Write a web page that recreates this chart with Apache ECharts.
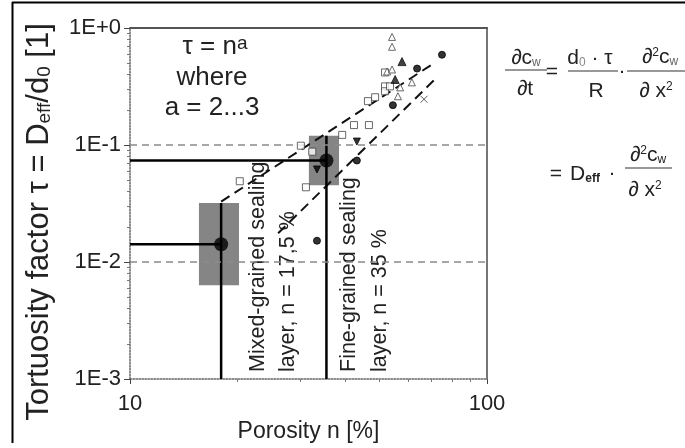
<!DOCTYPE html>
<html><head><meta charset="utf-8">
<script src="https://cdn.jsdelivr.net/npm/echarts@6/dist/echarts.min.js"></script>
<style>html,body{margin:0;padding:0;background:#fff}#c{width:685px;height:448px}</style>
</head><body><div id="c"></div>
<script>
// ---- data (porosity n in %, tortuosity factor tau) ----
const xTickValues = [10, 100];
const xTickLabels = ['10', '100'];
const yTickValues = [0.001, 0.01, 0.1, 1];
const yTickLabels = ['1E-3', '1E-2', '1E-1', '1E+0'];

const openSquares = [[20.3,0.049],[30.1,0.0986],[32.4,0.0877],[31.1,0.0435],[39.3,0.122],[42.4,0.148],[46.7,0.148],[46.4,0.237],[48.6,0.256],[51.8,0.317],[51.8,0.288],[53.5,0.317],[51.8,0.417]];
const openTriangles = [[54.2,0.839],[54.2,0.691],[52.5,0.425],[54.2,0.442],[57.1,0.311],[61.6,0.343],[56.3,0.261]];
const filledCircles = [[74.8,0.591],[63.7,0.450],[54.5,0.219],[43.2,0.0737],[33.4,0.0152]];
const filledTrianglesDown = [[43.2,0.107],[33.4,0.0618]];
const filledTrianglesUp = [[57.8,0.516],[55.3,0.363]];
const crosses = [[66.6,0.246]];
const layerMeans = [[18,0.0142],[35.5,0.0737]];
// [nMin, nMax, tauMin, tauMax]
const layerRanges = [[15.6,20.2,0.00634,0.0319],[31.7,38.5,0.0453,0.12]];
const trendA2 = [[18,0.0328],[71,0.50]];
const trendA3 = [[26,0.0176],[71.5,0.365]];
const guideMixedH = [[10,0.0142],[18,0.0142]];
const guideMixedV = [[18,0.001],[18,0.0319]];
const guideFineH = [[10,0.0737],[35.5,0.0737]];
const guideFineV = [[35.5,0.001],[35.5,0.12]];
const refLevels = [0.1, 0.01];

function lbl(vals, labs, v) {
  for (let i = 0; i < vals.length; i++) if (Math.abs(Math.log10(v) - Math.log10(vals[i])) < 1e-6) return labs[i];
  return '';
}
const FF = 'Liberation Sans, Arial, sans-serif';
const TC = '#222';

const chart = echarts.init(document.getElementById('c'), null, {renderer: 'canvas'});
const solid = (data, w) => ({type:'line', data, symbol:'none', lineStyle:{color:'#000', width:w}, z:4, animation:false, silent:true});
const dashed = (data) => ({type:'line', data, symbol:'none', lineStyle:{color:'#111', width:2, type:[10,6]}, z:3, animation:false, silent:true});
const scat = (data, symbol, size, fill, border, rot) => ({type:'scatter', data, symbol, symbolSize:size, symbolRotate:rot||0, itemStyle:{color:fill, borderColor:border, borderWidth:1}, z:5, animation:false});

const option = {
  animation: false,
  grid: {left:130, top:28, width:357, height:355},
  xAxis: [{
    type:'log', logBase:10, min:10, max:100,
    axisLine:{show:true, lineStyle:{color:'#666', width:1.5, type:'dotted'}},
    axisTick:{show:true, length:5, lineStyle:{color:'#444'}},
    minorTick:{show:true, splitNumber:9, length:3, lineStyle:{color:'#777'}},
    axisLabel:{fontSize:22, color:TC, fontFamily:FF, margin:14, formatter:v=>lbl(xTickValues,xTickLabels,v)},
    splitLine:{show:false},
    name:'Porosity n [%]', nameLocation:'middle', nameGap:41,
    nameTextStyle:{fontSize:23, color:TC, fontFamily:FF}
  },{
    type:'log', logBase:10, min:10, max:100, position:'top',
    axisLine:{show:true, lineStyle:{color:'#555', width:2}},
    axisTick:{show:false}, axisLabel:{show:false}, splitLine:{show:false}
  }],
  yAxis: [{
    type:'log', logBase:10, min:0.001, max:1,
    axisLine:{show:true, lineStyle:{color:'#666', width:1.5, type:'dotted'}},
    axisTick:{show:true, length:6, lineStyle:{color:'#444'}},
    minorTick:{show:true, splitNumber:9, length:3, lineStyle:{color:'#777'}},
    axisLabel:{fontSize:22, color:TC, fontFamily:FF, margin:9, formatter:v=>lbl(yTickValues,yTickLabels,v)},
    splitLine:{show:false}
  },{
    type:'log', logBase:10, min:0.001, max:1, position:'right',
    axisLine:{show:true, lineStyle:{color:'#777', width:2}},
    axisTick:{show:false}, axisLabel:{show:false}, splitLine:{show:false}
  }],
  series: [
    {type:'custom', data: layerRanges, encode:{x:[0,1], y:[2,3]}, z:1, animation:false, silent:true,
     renderItem:(params, api) => {
       const a = api.coord([api.value(0), api.value(3)]);
       const b = api.coord([api.value(1), api.value(2)]);
       return {type:'rect', shape:{x:a[0], y:a[1], width:b[0]-a[0], height:b[1]-a[1]}, style:{fill:'#858585'}};
     },
     markLine:{silent:true, symbol:'none', label:{show:false}, animation:false,
       lineStyle:{color:'#8a8a8a', width:1.5, type:[7,5]},
       data: refLevels.map(v => ({yAxis: v}))}},
    dashed(trendA2), dashed(trendA3),
    solid(guideMixedH, 2.5), solid(guideMixedV, 2.5), solid(guideFineH, 2.5), solid(guideFineV, 2.5),
    scat(openSquares, 'rect', 7, '#fff', '#444'),
    scat(openTriangles, 'triangle', 7, '#fff', '#444'),
    scat(filledCircles, 'circle', 7, '#000', '#000'),
    scat(filledTrianglesDown, 'triangle', 7, '#000', '#000', 180),
    scat(filledTrianglesUp, 'triangle', 8, '#111', '#111'),
    scat(crosses, 'path://M0,0L10,10M10,0L0,10M0,0', 7, 'none', '#333'),
    {type:'scatter', data: layerMeans, symbol:'circle', symbolSize:14, itemStyle:{color:'#000'}, z:6, animation:false}
  ],
  graphic: [
    {type:'line', shape:{x1:12.5, y1:2, x2:12.5, y2:443}, style:{stroke:'#000', lineWidth:2}},
    {type:'line', shape:{x1:12, y1:2.5, x2:685, y2:2.5}, style:{stroke:'#000', lineWidth:2}},
    {type:'text', x:39, y:222, rotation:Math.PI/2, style:{
      text:'{n|Tortuosity factor τ = D}{s|eff}{n|/d}{s|0}{n| [1]}',
      align:'center', verticalAlign:'middle', fill:TC,
      rich:{n:{fontSize:31, fontFamily:FF, fill:TC}, s:{fontSize:19, fontFamily:FF, fill:TC, verticalAlign:'bottom'}}}},
    {type:'text', x:215, y:47, style:{text:'{n|τ = n}{p|a}', align:'center', verticalAlign:'middle',
      rich:{n:{fontSize:26, fontFamily:FF, fill:TC}, p:{fontSize:19, fontFamily:FF, fill:TC, verticalAlign:'top'}}}},
    {type:'text', x:212, y:78, style:{text:'where', align:'center', verticalAlign:'middle', fontSize:26, fontFamily:FF, fill:TC}},
    {type:'text', x:212, y:108, style:{text:'a = 2...3', align:'center', verticalAlign:'middle', fontSize:26, fontFamily:FF, fill:TC}},
    {type:'text', x:258, y:372, rotation:Math.PI/2, style:{text:'Mixed-grained sealing', align:'left', verticalAlign:'middle', fontSize:21.5, fontFamily:FF, fill:TC}},
    {type:'text', x:288, y:372, rotation:Math.PI/2, style:{text:'layer, n = 17,5 %', align:'left', verticalAlign:'middle', fontSize:21.5, fontFamily:FF, fill:TC}},
    {type:'text', x:349, y:372, rotation:Math.PI/2, style:{text:'Fine-grained sealing', align:'left', verticalAlign:'middle', fontSize:21.5, fontFamily:FF, fill:TC}},
    {type:'text', x:380, y:372, rotation:Math.PI/2, style:{text:'layer, n = 35 %', align:'left', verticalAlign:'middle', fontSize:21.5, fontFamily:FF, fill:TC}},
    // equations
    {type:'text', x:526, y:58, style:{text:'{n|∂c}{s|w}', align:'center', verticalAlign:'middle', rich:{n:{fontSize:21,fontFamily:FF,fill:TC}, s:{fontSize:12,fontFamily:FF,fill:'#666',verticalAlign:'bottom'}}}},
    {type:'line', shape:{x1:505, y1:70, x2:547, y2:70}, style:{stroke:'#333', lineWidth:1.2}},
    {type:'text', x:525, y:89, style:{text:'∂t', align:'center', verticalAlign:'middle', fontSize:21, fontFamily:FF, fill:TC}},
    {type:'text', x:552, y:72, style:{text:'=', align:'center', verticalAlign:'middle', fontSize:21, fontFamily:FF, fill:TC}},
    {type:'text', x:590, y:58, style:{text:'{n|d}{s|0}{n| · τ}', align:'center', verticalAlign:'middle', rich:{n:{fontSize:21,fontFamily:FF,fill:TC}, s:{fontSize:12,fontFamily:FF,fill:'#888',verticalAlign:'bottom'}}}},
    {type:'line', shape:{x1:568, y1:71, x2:618, y2:71}, style:{stroke:'#333', lineWidth:1.2}},
    {type:'text', x:596, y:91, style:{text:'R', align:'center', verticalAlign:'middle', fontSize:21, fontFamily:FF, fill:TC}},
    {type:'text', x:622, y:71, style:{text:'·', align:'center', verticalAlign:'middle', fontSize:21, fontFamily:FF, fill:TC}},
    {type:'text', x:660, y:57, style:{text:'{n|∂}{p|2}{n|c}{s|w}', align:'center', verticalAlign:'middle', rich:{n:{fontSize:21,fontFamily:FF,fill:TC}, p:{fontSize:12,fontFamily:FF,fill:TC,verticalAlign:'top'}, s:{fontSize:12,fontFamily:FF,fill:'#666',verticalAlign:'bottom'}}}},
    {type:'line', shape:{x1:627, y1:71, x2:690, y2:71}, style:{stroke:'#333', lineWidth:1.2}},
    {type:'text', x:656, y:91, style:{text:'{n|∂ x}{p|2}', align:'center', verticalAlign:'middle', rich:{n:{fontSize:21,fontFamily:FF,fill:TC}, p:{fontSize:12,fontFamily:FF,fill:TC,verticalAlign:'top'}}}},
    {type:'text', x:556, y:174, style:{text:'=', align:'center', verticalAlign:'middle', fontSize:21, fontFamily:FF, fill:TC}},
    {type:'text', x:585, y:174, style:{text:'{n|D}{s|eff}', align:'center', verticalAlign:'middle', rich:{n:{fontSize:21,fontFamily:FF,fill:TC}, s:{fontSize:12,fontFamily:FF,fill:TC,fontWeight:'bold',verticalAlign:'bottom'}}}},
    {type:'text', x:612, y:173, style:{text:'·', align:'center', verticalAlign:'middle', fontSize:21, fontFamily:FF, fill:TC}},
    {type:'text', x:648, y:155, style:{text:'{n|∂}{p|2}{n|c}{s|w}', align:'center', verticalAlign:'middle', rich:{n:{fontSize:21,fontFamily:FF,fill:TC}, p:{fontSize:12,fontFamily:FF,fill:TC,verticalAlign:'top'}, s:{fontSize:12,fontFamily:FF,fill:TC,verticalAlign:'bottom'}}}},
    {type:'line', shape:{x1:625, y1:168, x2:672, y2:168}, style:{stroke:'#333', lineWidth:1.2}},
    {type:'text', x:645, y:190, style:{text:'{n|∂ x}{p|2}', align:'center', verticalAlign:'middle', rich:{n:{fontSize:21,fontFamily:FF,fill:TC}, p:{fontSize:12,fontFamily:FF,fill:TC,verticalAlign:'top'}}}}
  ]
};
chart.setOption(option);
</script>
</body></html>
